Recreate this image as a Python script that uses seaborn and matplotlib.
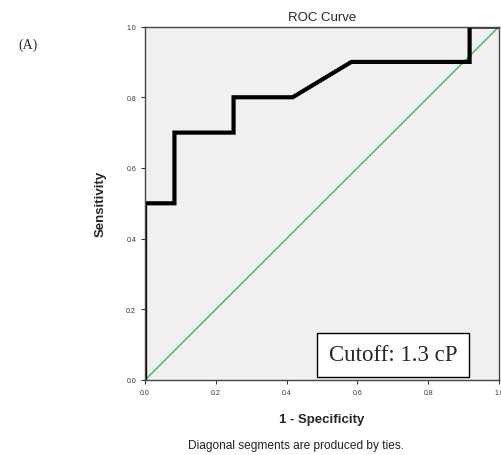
import matplotlib
matplotlib.use('Agg')
import matplotlib.pyplot as plt
import pandas as pd
import seaborn as sns

# ROC curve points
fpr = [0.0, 0.0, 0.083, 0.083, 0.25, 0.25, 0.417, 0.583, 0.917, 0.917, 1.0]
tpr = [0.0, 0.5, 0.5, 0.7, 0.7, 0.8, 0.8, 0.9, 0.9, 1.0, 1.0]
diag = [0.0, 1.0]
ticks = [0.0, 0.2, 0.4, 0.6, 0.8, 1.0]
tick_labels = ['0.0', '0.2', '0.4', '0.6', '0.8', '1.0']

sns.set_style('ticks')
plt.rcParams['font.family'] = ['Liberation Sans', 'DejaVu Sans']

roc = pd.DataFrame({'fpr': fpr, 'tpr': tpr})
ref = pd.DataFrame({'x': diag, 'y': diag})

fig = plt.figure(figsize=(5.02, 4.56), dpi=100)
ax = fig.add_axes([0.289, 0.1645, 0.705, 0.775])
ax.set_facecolor('#f0f0f0')

sns.lineplot(data=ref, x='x', y='y', ax=ax, color='#3cba4a', linewidth=1.0,
             sort=False, estimator=None)
sns.lineplot(data=roc, x='fpr', y='tpr', ax=ax, color='black', linewidth=3.0,
             sort=False, estimator=None, solid_joinstyle='miter')

ax.set_xlim(0, 1)
ax.set_ylim(0, 1)
ax.set_xticks(ticks)
ax.set_xticklabels(tick_labels)
ax.set_yticks(ticks)
ax.set_yticklabels(tick_labels)
ax.tick_params(labelsize=5, length=3, width=0.8, colors='#333333')
for s in ax.spines.values():
    s.set_color('#444444')
    s.set_linewidth(1.0)

ax.set_xlabel('1 - Specificity', fontsize=9.5, fontweight='bold', labelpad=12)
ax.set_ylabel('Sensitivity', fontsize=9.5, fontweight='bold', labelpad=14)
ax.set_title('ROC Curve', fontsize=9.5, pad=5)

ax.text(0.70, 0.071, 'Cutoff: 1.3 cP', transform=ax.transAxes, fontsize=16.5,
        family=['Liberation Serif', 'DejaVu Serif'], ha='center', va='center',
        bbox=dict(boxstyle='square,pad=0.5', facecolor='white', edgecolor='black', linewidth=1.0))

fig.text(0.036, 0.9, '(A)', fontsize=10, family=['Liberation Serif', 'DejaVu Serif'],
         ha='left', va='center')
fig.text(0.59, 0.021, 'Diagonal segments are produced by ties.', fontsize=8.6,
         ha='center', va='center', color='#222222')

fig.savefig('out.png', dpi=100)
